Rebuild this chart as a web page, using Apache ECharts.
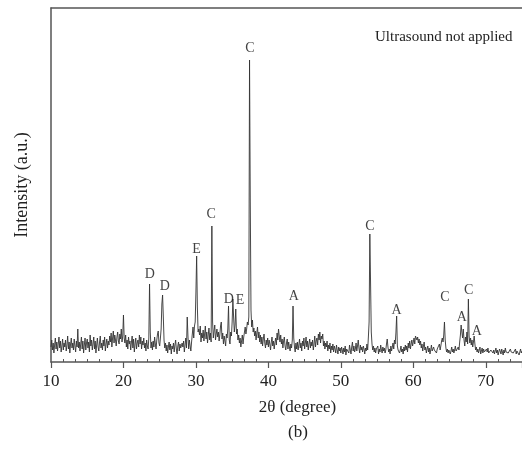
<!DOCTYPE html>
<html>
<head>
<meta charset="utf-8">
<script src="https://cdn.jsdelivr.net/npm/echarts@6/dist/echarts.min.js"></script>
<style>
  html, body { margin: 0; padding: 0; background: #fff; }
  #chart { width: 522px; height: 453px; }
</style>
</head>
<body>
<div id="chart"></div>
<script>
// XRD pattern, one reading every 0.1 degree from 10 to 75
var startAngle = 10;
var stepAngle = 0.1;
var intensity = [
  15, 22, 12, 19, 9, 17, 24, 13, 20, 11,      // 10
  18, 25, 14, 21, 10, 16, 23, 12, 19, 15,     // 11
  22, 11, 17, 26, 13, 20, 9, 18, 24, 14,      // 12
  19, 12, 23, 16, 10, 21, 15, 33, 14, 20,     // 13
  11, 18, 25, 13, 21, 9, 17, 24, 12, 19,      // 14
  23, 14, 20, 10, 27, 16, 22, 12, 18, 25,     // 15
  13, 21, 9, 17, 24, 15, 11, 20, 26, 14,      // 16
  19, 12, 22, 16, 25, 11, 18, 23, 14, 21,     // 17
  17, 26, 20, 29, 15, 24, 31, 19, 27, 22,     // 18
  16, 25, 30, 21, 18, 28, 23, 33, 20, 26,     // 19
  47, 24, 19, 27, 15, 22, 13, 25, 18, 21,     // 20
  12, 20, 26, 14, 23, 10, 18, 24, 13, 19,     // 21
  22, 15, 27, 18, 25, 13, 21, 17, 24, 14,     // 22
  19, 11, 22, 16, 13, 24, 78, 30, 14, 20,     // 23
  12, 21, 15, 25, 18, 13, 22, 28, 31, 19,     // 24
  16, 24, 33, 58, 67, 45, 22, 14, 19, 11,     // 25
  17, 9, 15, 20, 12, 18, 8, 16, 13, 19,       // 26
  10, 17, 22, 13, 8, 16, 20, 11, 18, 14,      // 27
  12, 19, 15, 21, 10, 17, 24, 14, 45, 26,     // 28
  13, 22, 16, 11, 20, 28, 35, 24, 36, 40,     // 29
  70, 106, 55, 30, 33, 27, 36, 20, 29, 24,    // 30
  32, 21, 28, 36, 23, 30, 19, 27, 34, 22,     // 31
  29, 20, 136, 40, 24, 31, 37, 22, 28, 33,    // 32
  25, 30, 21, 27, 36, 40, 23, 29, 18, 26,     // 33
  21, 16, 28, 24, 33, 56, 22, 18, 30, 26,     // 34
  40, 63, 45, 30, 37, 53, 28, 33, 22, 27,     // 35
  19, 24, 15, 21, 27, 18, 25, 30, 35, 28,     // 36
  33, 40, 37, 45, 302, 160, 52, 35, 42, 30,   // 37
  34, 26, 31, 22, 29, 35, 24, 30, 20, 27,     // 38
  18, 25, 16, 23, 28, 19, 14, 22, 17, 24,     // 39
  15, 22, 18, 12, 20, 25, 16, 21, 13, 19,     // 40
  24, 17, 29, 22, 33, 26, 20, 27, 18, 23,     // 41
  14, 21, 25, 16, 12, 19, 23, 13, 20, 15,     // 42
  11, 18, 14, 22, 56, 24, 15, 10, 19, 13,     // 43
  20, 12, 17, 23, 14, 19, 11, 21, 16, 24,     // 44
  13, 19, 25, 15, 21, 12, 18, 23, 14, 20,     // 45
  16, 22, 12, 18, 26, 15, 21, 24, 17, 28,     // 46
  22, 30, 19, 26, 23, 28, 16, 21, 13, 19,     // 47
  15, 21, 11, 17, 13, 19, 9, 16, 12, 18,      // 48
  10, 16, 13, 9, 17, 12, 8, 15, 11, 14,       // 49
  9, 15, 12, 8, 14, 10, 16, 7, 13, 11,        // 50
  14, 9, 17, 12, 8, 15, 20, 11, 16, 10,       // 51
  13, 19, 11, 16, 22, 14, 9, 17, 12, 15,      // 52
  10, 16, 13, 8, 14, 11, 18, 12, 25, 40,      // 53
  128, 80, 30, 18, 12, 16, 10, 14, 9, 13,     // 54
  11, 16, 8, 13, 10, 17, 12, 9, 15, 11,       // 55
  14, 9, 12, 18, 23, 15, 10, 13, 8, 16,       // 56
  11, 15, 19, 13, 22, 18, 29, 46, 16, 12,     // 57
  14, 9, 12, 16, 10, 13, 8, 15, 11, 17,       // 58
  12, 16, 10, 19, 14, 21, 13, 18, 22, 16,     // 59
  20, 24, 18, 26, 28, 22, 25, 19, 23, 17,     // 60
  21, 14, 18, 11, 16, 20, 12, 15, 9, 13,      // 61
  16, 10, 14, 8, 12, 17, 11, 9, 15, 12,       // 62
  10, 14, 9, 13, 11, 15, 18, 12, 16, 21,      // 63
  24, 20, 27, 40, 22, 14, 10, 13, 9, 12,      // 64
  14, 8, 11, 15, 10, 13, 9, 12, 16, 11,       // 65
  13, 9, 15, 12, 20, 27, 37, 30, 24, 33,      // 66
  22, 16, 25, 20, 30, 18, 63, 26, 19, 24,     // 67
  17, 22, 15, 20, 26, 18, 12, 15, 10, 13,     // 68
  9, 12, 15, 8, 11, 14, 9, 13, 10, 12,        // 69
  8, 13, 10, 14, 9, 11, 7, 12, 10, 13,        // 70
  9, 12, 8, 11, 14, 9, 12, 7, 10, 13,         // 71
  11, 8, 13, 10, 7, 12, 9, 14, 10, 8,         // 72
  12, 9, 11, 7, 13, 10, 8, 12, 9, 11,         // 73
  10, 13, 8, 11, 9, 12, 7, 10, 13, 9,         // 74
  11                                          // 75
];

// phase labels above the peaks
var peakText = ['D', 'D', 'E', 'C', 'D', 'E', 'C', 'A', 'C', 'A', 'C', 'A', 'C', 'A'];
var peakAngle = [23.65, 25.7, 30.1, 32.1, 34.55, 36.1, 37.45, 43.5, 54.0, 57.7, 64.35, 66.7, 67.65, 68.75];
var peakLabelY = [88, 76, 113, 148, 63, 62, 314, 66, 136, 52, 65, 45, 72, 31];

var xTicks = [10, 20, 30, 40, 50, 60, 70];

var serif = "'Liberation Serif', 'DejaVu Serif', serif";

var traceData = intensity.map(function (v, i) {
  return [+(startAngle + i * stepAngle).toFixed(1), v];
});
var labelData = peakText.map(function (t, i) {
  return { name: t, value: [peakAngle[i], peakLabelY[i]] };
});

var chart = echarts.init(document.getElementById('chart'));
chart.setOption({
  animation: false,
  grid: { left: 51, right: 0, top: 8, bottom: 91, outerBoundsMode: 'none', containLabel: false },
  xAxis: [
    {
      type: 'value',
      min: 10,
      max: 75,
      interval: 10,
      position: 'bottom',
      name: '2θ (degree)',
      nameLocation: 'middle',
      nameGap: 37,
      nameTextStyle: { fontFamily: serif, fontSize: 17, color: '#222', padding: [0, 0, 0, 22] },
      axisLine: { show: true, lineStyle: { color: '#555', width: 1.5 } },
      axisTick: { show: true, length: 6, lineStyle: { color: '#555', width: 1.2 } },
      minorTick: { show: true, splitNumber: 6, length: -3, lineStyle: { color: '#555', width: 1 } },
      axisLabel: {
        margin: 11,
        fontFamily: serif,
        fontSize: 17,
        color: '#222',
        formatter: function (v) { return xTicks.indexOf(v) >= 0 ? String(v) : ''; }
      },
      splitLine: { show: false }
    },
    {
      type: 'value',
      min: 10,
      max: 75,
      position: 'top',
      axisLine: { show: true, lineStyle: { color: '#555', width: 1.5 } },
      axisTick: { show: false },
      axisLabel: { show: false },
      splitLine: { show: false }
    }
  ],
  yAxis: {
    type: 'value',
    min: 0,
    max: 354,
    name: 'Intensity (a.u.)',
    nameLocation: 'middle',
    nameRotate: 90,
    nameGap: 20,
    nameTextStyle: { fontFamily: serif, fontSize: 18, color: '#222' },
    axisLine: { show: true, lineStyle: { color: '#555', width: 1.5 } },
    axisTick: { show: false },
    axisLabel: { show: false },
    splitLine: { show: false }
  },
  graphic: [
    {
      type: 'text',
      left: 375,
      top: 30,
      style: { text: 'Ultrasound not applied', font: '15px ' + serif, fill: '#222' }
    },
    {
      type: 'text',
      left: 288,
      top: 424,
      style: { text: '(b)', font: '17px ' + serif, fill: '#222' }
    }
  ],
  series: [
    {
      type: 'line',
      data: traceData,
      showSymbol: false,
      lineStyle: { color: '#333', width: 0.9 },
      z: 2
    },
    {
      type: 'scatter',
      data: labelData,
      symbolSize: 1,
      itemStyle: { color: 'rgba(0,0,0,0)' },
      label: {
        show: true,
        position: 'inside',
        formatter: '{b}',
        fontFamily: serif,
        fontSize: 14,
        color: '#111'
      },
      z: 3
    }
  ]
});
</script>
</body>
</html>
